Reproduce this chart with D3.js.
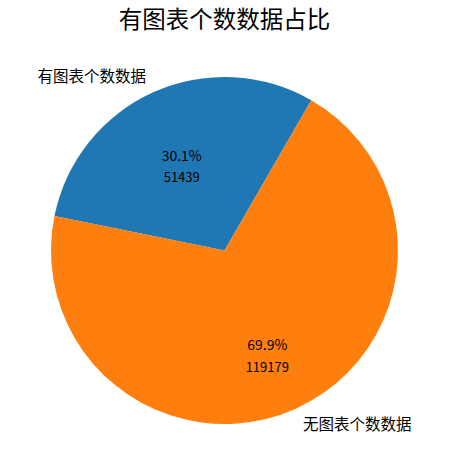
<!DOCTYPE html>
<html>
<head>
<meta charset="utf-8">
<script src="https://cdn.jsdelivr.net/npm/d3@7"></script>
<style>
  body { margin: 0; background: #fff; }
  text { font-family: "Noto Sans CJK SC", "DejaVu Sans", sans-serif; fill: #000; }
</style>
</head>
<body>
<svg width="449" height="475"></svg>
<script>
var title = "有图表个数数据占比";
var labels = ["有图表个数数据", "无图表个数数据"];
var counts = [51439, 119179];
var colors = ["#1f77b4", "#ff7f0e"];

var svg = d3.select("svg"),
    cx = 224.5,
    cy = 250.5,
    radius = 173.5;

svg.append("text")
    .attr("x", cx)
    .attr("y", 28)
    .attr("text-anchor", "middle")
    .style("font-size", "23.5px")
    .text(title);

var total = d3.sum(counts);

// matplotlib startangle=60, counterclockwise
var pie = d3.pie()
    .sort(null)
    .startAngle(Math.PI / 6)
    .endAngle(Math.PI / 6 - 2 * Math.PI)
    .value(function(d) { return d; });

var arcs = pie(counts);

var arc = d3.arc().innerRadius(0).outerRadius(radius);
var pctArc = d3.arc().innerRadius(radius * 0.6).outerRadius(radius * 0.6);
var lblArc = d3.arc().innerRadius(radius * 1.1).outerRadius(radius * 1.1);

var g = svg.append("g")
    .attr("transform", "translate(" + cx + "," + cy + ")");

g.selectAll("path")
    .data(arcs)
    .enter().append("path")
    .attr("d", arc)
    .attr("fill", function(d, i) { return colors[i]; });

// outer labels
g.selectAll("text.label")
    .data(arcs)
    .enter().append("text")
    .attr("class", "label")
    .attr("x", function(d) { return lblArc.centroid(d)[0]; })
    .attr("y", function(d) { return lblArc.centroid(d)[1]; })
    .attr("dy", "0.35em")
    .attr("text-anchor", function(d) { return lblArc.centroid(d)[0] < 0 ? "end" : "start"; })
    .style("font-size", "15.5px")
    .text(function(d, i) { return labels[i]; });

// percentages
g.selectAll("text.pct")
    .data(arcs)
    .enter().append("text")
    .attr("class", "pct")
    .attr("x", function(d) { return pctArc.centroid(d)[0]; })
    .attr("y", function(d) { return pctArc.centroid(d)[1]; })
    .attr("dy", "0.35em")
    .attr("text-anchor", "middle")
    .style("font-size", "14px")
    .text(function(d) { return (d.value / total * 100).toFixed(1) + "%"; });

// counts below
g.selectAll("text.cnt")
    .data(arcs)
    .enter().append("text")
    .attr("class", "cnt")
    .attr("x", function(d) { return pctArc.centroid(d)[0]; })
    .attr("y", function(d) { return pctArc.centroid(d)[1] + 22; })
    .attr("dy", "0.35em")
    .attr("text-anchor", "middle")
    .style("font-size", "13px")
    .text(function(d) { return d.value; });
</script>
</body>
</html>
